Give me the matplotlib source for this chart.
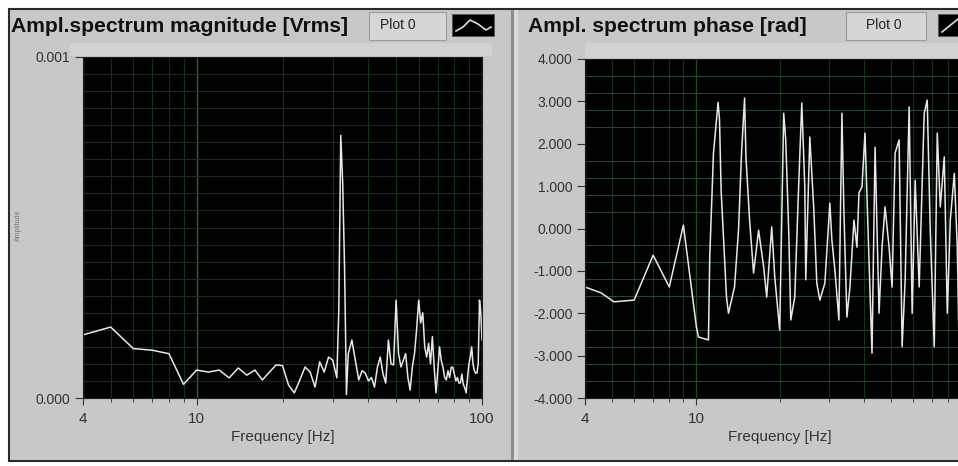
import matplotlib
matplotlib.use("Agg")
import matplotlib.pyplot as plt
import numpy as np
from matplotlib.patches import Rectangle
from matplotlib.lines import Line2D
from matplotlib.ticker import MultipleLocator, NullFormatter

W, H = 958, 466

# amplitude spectrum (Vrms, in units of 1e-4)
freq_mag = [4, 5, 6, 7, 8, 9, 10, 11, 12, 13, 14, 15, 16, 17, 18, 19, 20,
            21, 22, 23, 24, 25, 26, 27, 28, 29, 30, 31, 31.5, 32, 32.5, 33, 33.5, 34,
            35, 36, 37, 38, 39, 40, 41, 42, 43, 44, 45, 46, 47, 48, 49, 50,
            51, 52, 53, 54, 55, 56, 57, 58, 59, 60, 61, 62, 63, 64, 65, 66, 67,
            68, 69, 70, 71, 72, 73, 74, 75, 76, 77, 78, 79, 80, 81, 82, 83, 84,
            85, 86, 87, 88, 89, 90, 91, 92, 93, 94, 95, 96, 97, 98, 99, 100]
mag = [1.85, 2.08, 1.45, 1.40, 1.30, 0.40, 0.82, 0.76, 0.82, 0.59, 0.88, 0.67, 0.82, 0.53, 0.76, 0.97, 0.95,
       0.38, 0.15, 0.53, 0.91, 0.76, 0.32, 1.06, 0.76, 1.20, 1.11, 0.59, 2.6, 7.7, 6.3, 3.8, 0.1, 1.3,
       1.7, 1.1, 0.53, 0.8, 0.73, 0.5, 0.6, 0.32, 0.9, 1.2, 0.7, 0.44, 1.7, 1.0, 0.97, 2.87,
       1.3, 0.91, 1.1, 1.3, 0.6, 0.23, 0.9, 1.3, 2.0, 2.87, 2.2, 2.5, 1.5, 1.2, 1.6, 1.0, 1.8,
       0.9, 0.15, 0.8, 1.5, 1.1, 0.9, 0.6, 0.53, 0.8, 0.6, 0.9, 0.9, 0.7, 0.5, 0.6, 0.44, 0.44,
       0.7, 0.4, 0.3, 0.15, 0.6, 1.0, 1.2, 1.5, 1.0, 0.8, 0.73, 0.73, 1.0, 2.87, 2.5, 1.7]

# phase spectrum (rad)
freq_phase = [4.0, 4.57, 5.08, 6.0, 7.02, 8.02, 9.01, 10.03, 10.2, 11.08, 11.2, 11.55, 12.0,
              12.14, 12.3, 12.86, 13.07, 13.74, 14.2, 14.56, 14.93, 15.1, 15.56, 16.08, 16.76,
              17.48, 17.92, 18.68, 19.15, 19.95, 20.62, 20.97, 21.5, 21.86, 22.59, 23.35, 23.94,
              24.54, 24.74, 25.58, 26.44, 27.1, 27.78, 28.96, 30.18, 30.69, 31.46, 32.52, 33.34,
              33.9, 34.74, 35.62, 36.82, 37.74, 38.38, 39.34, 40.33, 41.69, 42.74, 43.83, 45.29,
              46.43, 47.6, 49.2, 50.44, 51.71, 53.45, 54.8, 56.19, 58.07, 59.53, 61.03, 63.08,
              65.75, 67.41, 69.11, 71.44, 73.24, 75.08, 77.6, 79.55, 81.56, 84.3, 86.4, 87.85,
              90.8, 93.9, 97.0, 100.0]
phase = [-1.38, -1.52, -1.73, -1.69, -0.63, -1.38, 0.08, -2.32, -2.56, -2.63, -0.67, 1.78, 2.98,
         2.56, 0.91, -1.62, -2.0, -1.38, -0.04, 1.78, 3.08, 1.69, 0.2, -1.05, -0.04,
         -0.91, -1.62, 0.04, -1.14, -2.4, 2.72, 2.09, -0.1, -2.16, -1.62, 1.07, 2.96,
         0.98, -1.21, 2.16, 0.44, -1.29, -1.69, -1.29, 0.6, -0.27, -0.98, -2.16, 2.72,
         0.37, -2.09, -1.38, 0.2, -0.44, 0.84, 0.98, 2.25, -0.74, -2.94, 1.92, -2.0,
         -0.44, 0.51, -0.44, -1.38, 1.78, 2.09, -2.79, -1.21, 2.87, -2.0, 1.14, -1.38,
         2.72, 3.03, -0.04, -2.79, 2.25, 0.51, 1.69, -2.0, 0.2, 1.3, -0.44, -3.1,
         0.9, -1.5, 2.1, -0.6]

x_minor = [5, 6, 7, 8, 9, 20, 30, 40, 50, 60, 70, 80, 90]
phase_ticks = [-4, -3, -2, -1, 0, 1, 2, 3, 4]
phase_labels = ["-4.000", "-3.000", "-2.000", "-1.000", "0.000", "1.000", "2.000", "3.000", "4.000"]

plt.rcParams["font.family"] = ["Liberation Sans", "DejaVu Sans"]

fig = plt.figure(figsize=(W / 100, H / 100), dpi=100, facecolor="white")


def frac(x0, y0, x1, y1):
    return [x0 / W, 1 - y1 / H, (x1 - x0) / W, (y1 - y0) / H]


def box(x0, y0, x1, y1, z=-10, **kw):
    l, b, w, h = frac(x0, y0, x1, y1)
    fig.add_artist(Rectangle((l, b), w, h, transform=fig.transFigure, zorder=z, **kw))


def fline(xs, ys, **kw):
    fig.add_artist(Line2D([x / W for x in xs], [1 - y / H for y in ys],
                          transform=fig.transFigure, zorder=5, **kw))


# front panel background (kept underneath the axes)
box(9, 9, 960, 461, fc="#c8c8c8", ec="#2a2a2a", lw=1.5)
box(70, 43, 492, 56, fc="#d2d2d2", ec="none")
box(585, 43, 960, 58, fc="#d2d2d2", ec="none")
box(511, 10, 514, 460, fc="#8c8c8c", ec="none")
box(514, 10, 518, 460, fc="#dadada", ec="none")

# titles and plot legends
fig.text(11 / W, 1 - 27 / H, "Ampl.spectrum magnitude [Vrms]", fontsize=15.2,
         fontweight="bold", va="center", color="#111111")
fig.text(528 / W, 1 - 27 / H, "Ampl. spectrum phase [rad]", fontsize=15.2,
         fontweight="bold", va="center", color="#111111")

box(369, 12, 446, 40, z=2, fc="#d6d6d6", ec="#9a9a9a", lw=0.8)
fig.text(380 / W, 1 - 25 / H, "Plot 0", fontsize=10, va="center", color="#222222")
box(452, 14, 494, 36, z=2, fc="black", ec="#555555", lw=0.6)
fline([456, 463, 470, 478, 486, 491], [31, 27, 20, 24, 30, 27], color="#dddddd", lw=1.2)

box(846, 12, 926, 40, z=2, fc="#d6d6d6", ec="#9a9a9a", lw=0.8)
fig.text(866 / W, 1 - 25 / H, "Plot 0", fontsize=10, va="center", color="#222222")
box(938, 14, 980, 36, z=2, fc="black", ec="#555555", lw=0.6)
fline([942, 958], [32, 19], color="#dddddd", lw=1.2)

fig.text(18 / W, 1 - 225 / H, "Amplitude", rotation=90, fontsize=5,
         color="#777777", va="center", ha="center")


def style_axes(ax, hgrid, vmajor, major):
    ax.set_facecolor("black")
    ax.set_xscale("log")
    ax.set_xlim(4, 100)
    ax.set_xticks(major, [str(m) for m in major])
    ax.set_xticks(x_minor, minor=True)
    ax.xaxis.set_minor_formatter(NullFormatter())
    ax.set_axisbelow(True)
    ax.grid(which="minor", axis="x", color="#153218", lw=0.8)
    ax.grid(which="major", axis="x", color=vmajor, lw=1.0)
    ax.grid(which="minor", axis="y", color=hgrid, lw=0.8)
    ax.tick_params(axis="y", which="minor", length=0)
    ax.tick_params(axis="y", which="major", length=6, pad=3, labelsize=10,
                   colors="#333333")
    ax.tick_params(axis="x", which="major", length=5, pad=5, labelsize=11,
                   colors="#333333")
    ax.tick_params(axis="x", which="minor", length=3, color="#333333")
    for s in ax.spines.values():
        s.set_color("#1a1a1a")
    ax.set_xlabel("Frequency [Hz]", fontsize=11, color="#333333", labelpad=3)


ax1 = fig.add_axes(frac(83, 57, 482, 398))
ax1.plot(freq_mag, np.array(mag) * 1e-4, color="#e8e8e8", lw=1.1)
style_axes(ax1, "#1b2a1d", "#276b2b", [4, 10, 100])
ax1.set_ylim(0, 0.001)
ax1.set_yticks([0, 0.001], ["0.000", "0.001"])
ax1.yaxis.set_minor_locator(MultipleLocator(0.00005))

# phase graph runs past the right edge of the panel
ax2 = fig.add_axes(frac(585, 59, 975, 398))
ax2.plot(freq_phase, phase, color="#e8e8e8", lw=1.1)
style_axes(ax2, "#2a4230", "#1d4a22", [4, 10])
ax2.set_ylim(-4, 4)
ax2.set_yticks(phase_ticks, phase_labels)
ax2.yaxis.set_minor_locator(MultipleLocator(0.4))

fig.savefig("out.png", dpi=100, facecolor="white")
